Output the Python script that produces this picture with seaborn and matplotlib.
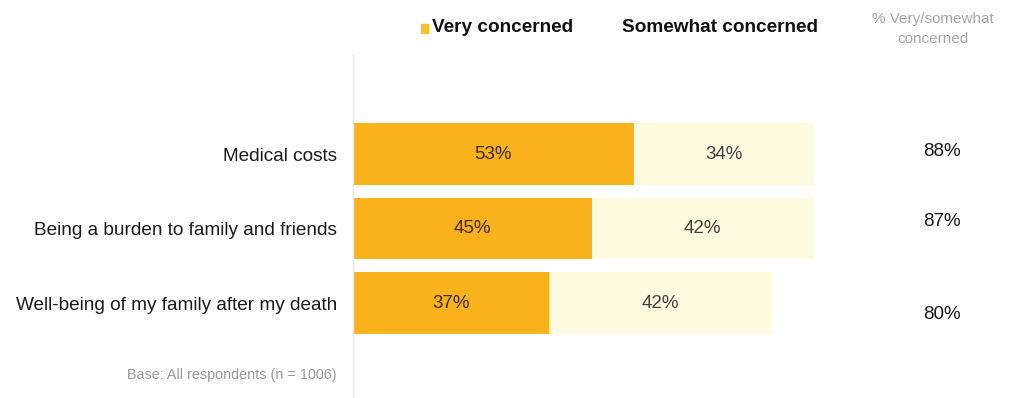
import matplotlib
matplotlib.use("Agg")
import matplotlib.pyplot as plt
import seaborn as sns
import pandas as pd

categories = ["Medical costs", "Being a burden to family and friends", "Well-being of my family after my death"]
very = [53, 45, 37]
somewhat = [34, 42, 42]
totals = [88, 87, 80]
legend_labels = ["Very concerned", "Somewhat concerned"]
total_title = "% Very/somewhat\nconcerned"
base_note = "Base: All respondents (n = 1006)"

sns.set_theme(style="white")
plt.rcParams['font.family'] = ['Liberation Sans', 'DejaVu Sans']

C_VERY = "#F9B21B"
C_SOME = "#FEFBE1"

df = pd.DataFrame({"cat": categories, "very": very, "somewhat": somewhat})
df["stack"] = df["very"] + df["somewhat"]

fig = plt.figure(figsize=(10.29, 3.98), dpi=100)
ax = fig.add_axes([353/1029, 0, 1 - 353/1029, (398-55)/398])

sns.barplot(data=df, y="cat", x="stack", color=C_SOME, orient="h", width=0.83,
            ax=ax, saturation=1, edgecolor="none")
sns.barplot(data=df, y="cat", x="very", color=C_VERY, orient="h", width=0.83,
            ax=ax, saturation=1, edgecolor="none")

ax.set_xlim(0, 676/5.3)
ax.set_ylim(2 + 95/74.5, -99/74.5)
ax.set_xlabel("")
ax.set_ylabel("")
ax.set_xticks([])
ax.tick_params(axis="y", length=0, pad=11.5, labelsize=13.7, labelcolor="#1a1a1a")
for s in ["top", "right", "bottom"]:
    ax.spines[s].set_visible(False)
ax.spines["left"].set_color("#e6e6e6")
ax.spines["left"].set_linewidth(1)

for i, (v, s) in enumerate(zip(very, somewhat)):
    ax.text(v / 2, i, f"{v}%", ha="center", va="center", fontsize=13.5, color="#3b2a14")
    ax.text(v + s / 2, i, f"{s}%", ha="center", va="center", fontsize=13.5, color="#404040")

total_offsets = [-0.03, -0.09, 0.15]
for i, (t, off) in enumerate(zip(totals, total_offsets)):
    ax.text(111.2, i + off, f"{t}%", ha="center", va="center", fontsize=13.5, color="#1a1a1a")

fig.text(933/1029, 1 - 29/398, total_title, ha="center", va="center", fontsize=11,
         color="#a6a6a6", linespacing=1.5)

# legend
fig.patches.append(plt.Rectangle((421/1029, 1 - 33/398), 7/1029, 9/398, transform=fig.transFigure,
                                 color="#F5C230", figure=fig))
fig.text(432/1029, 1 - 27/398, legend_labels[0], ha="left", va="center", fontsize=13.7,
         fontweight="bold", color="#111111")
fig.text(622/1029, 1 - 27/398, legend_labels[1], ha="left", va="center", fontsize=13.7,
         fontweight="bold", color="#111111")

fig.text(337/1029, 1 - 375/398, base_note, ha="right", va="center", fontsize=10.4, color="#9a9a9a")

fig.savefig("out.png", dpi=100)
